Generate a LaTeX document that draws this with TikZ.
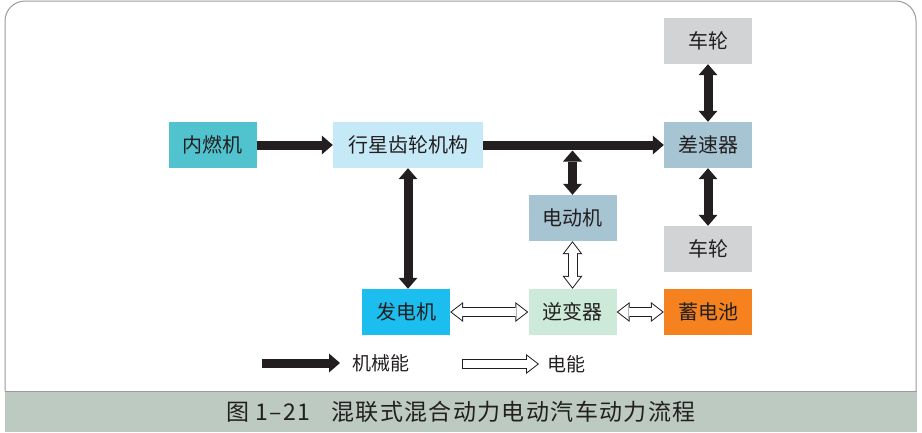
\documentclass[tikz,border=0pt]{standalone}
\usepackage{fontspec}
\newfontfamily\cjk{Noto Sans CJK SC}
\newfontfamily\cjkcap{Noto Sans CJK SC}[LetterSpace=6]
\usepackage{tikz}
\usetikzlibrary{
    calc,
    arrows.meta
}
\definecolor{ink}{HTML}{231F20}
\definecolor{framegray}{HTML}{9A9A9A}
\definecolor{band}{HTML}{BCCAC1}
\definecolor{engine}{HTML}{50C3CE}
\definecolor{gearset}{HTML}{C6E9F8}
\definecolor{steel}{HTML}{A6C4D2}
\definecolor{wheelgray}{HTML}{D1D3D4}
\definecolor{cyanbox}{HTML}{1BBEEF}
\definecolor{paleg}{HTML}{CDE9D7}
\definecolor{orangebox}{HTML}{F5821F}
\tikzset{
    % coloured block with one label
    block/.style={
        fill=#1, text=ink, inner sep=0pt,
        minimum width=88pt, minimum height=46pt,
        font=\cjk\fontsize{20}{24}\selectfont
    },
    % heavy black arrow (mechanical power)
    mech/.style={
        draw=ink, line width=9pt,
        -{Triangle[width=19pt,length=11pt,line width=0pt]}
    },
    mech both/.style={
        mech,
        {Triangle[width=19pt,length=11pt,line width=0pt]}-{Triangle[width=19pt,length=11pt,line width=0pt]}
    },
    % outlined arrow (electric power), white body over a black one
    elec/.style={
        draw=white, line width=8pt,
        shorten <=1.6pt, shorten >=1.6pt,
        {Triangle[width=16pt,length=10.4pt,line width=0pt]}-{Triangle[width=16pt,length=10.4pt,line width=0pt]},
        preaction={
            draw=ink, line width=10pt,
            shorten <=0pt, shorten >=0pt,
            {Triangle[width=20pt,length=13pt,line width=0pt]}-{Triangle[width=20pt,length=13pt,line width=0pt]}
        }
    },
    elec key/.style={
        draw=white, line width=8pt,
        shorten <=1pt, shorten >=1.6pt,
        -{Triangle[width=16pt,length=10.4pt,line width=0pt]},
        preaction={
            draw=ink, line width=10pt,
            shorten <=0pt, shorten >=0pt,
            -{Triangle[width=20pt,length=13pt,line width=0pt]}
        }
    },
    keytext/.style={anchor=west, inner sep=0pt, text=ink, font=\cjk\fontsize{19}{23}\selectfont}
}
\begin{document}
\begin{tikzpicture}[x=1pt, y=-1pt]
    \useasboundingbox (0,0) rectangle (922,432);
    % frame and caption band
    \draw[framegray, line width=1pt, rounded corners=20pt]
        (5,391) -- (5,1) -- (916,1) -- (916,391);
    \fill[band] (5,391.5) rectangle (917,432);
    \draw[framegray, line width=1pt] (5,391.5) -- (917,391.5);
    \node[text=ink, font=\cjkcap\fontsize{23}{27}\selectfont] (cap) at (461,412)
        {图 1–21\hspace{0.9em}混联式混合动力电动汽车动力流程};

    \node[block=engine] (ice) at (212.5,145) {内燃机};
    \node[block=gearset, minimum width=150pt] (pgs) at (408,145) {行星齿轮机构};
    \node[block=steel] (diff) at (708,145) {差速器};
    \node[block=wheelgray] (wtop) at (708,41) {车轮};
    \node[block=wheelgray] (wbot) at (708,249) {车轮};
    \node[block=steel] (mot) at (572.5,218) {电动机};
    \node[block=cyanbox] (gen) at (406,312) {发电机};
    \node[block=paleg] (inv) at (572.5,312) {逆变器};
    \node[block=orangebox] (bat) at (708,312) {蓄电池};
    \coordinate (tap) at (572.5,150.5);

    \draw[mech] (ice.east) -- (pgs.west);
    \draw[mech] (pgs.east) -- (diff.west);
    \draw[mech both] (tap) -- (mot.north);
    \draw[mech both] (pgs.south) -- (pgs.south |- gen.north);
    \draw[mech both] (wtop.south) -- (diff.north);
    \draw[mech both] (diff.south) -- (wbot.north);
    \draw[elec] (gen.east) -- (inv.west);
    \draw[elec] (inv.east) -- (bat.west);
    \draw[elec] (mot.south) -- (inv.north);

    % key
    \node[keytext] (mechtxt) at (352,363) {机械能};
    \node[keytext] (electxt) at (547,364) {电能};
    \coordinate (mk) at (262,363);
    \coordinate (ek) at (462,364);
    \draw[mech] (mk) -- ([xshift=-12pt]mechtxt.west);
    \draw[elec key] (ek) -- ([xshift=-8pt]electxt.west);
\end{tikzpicture}
\end{document}
